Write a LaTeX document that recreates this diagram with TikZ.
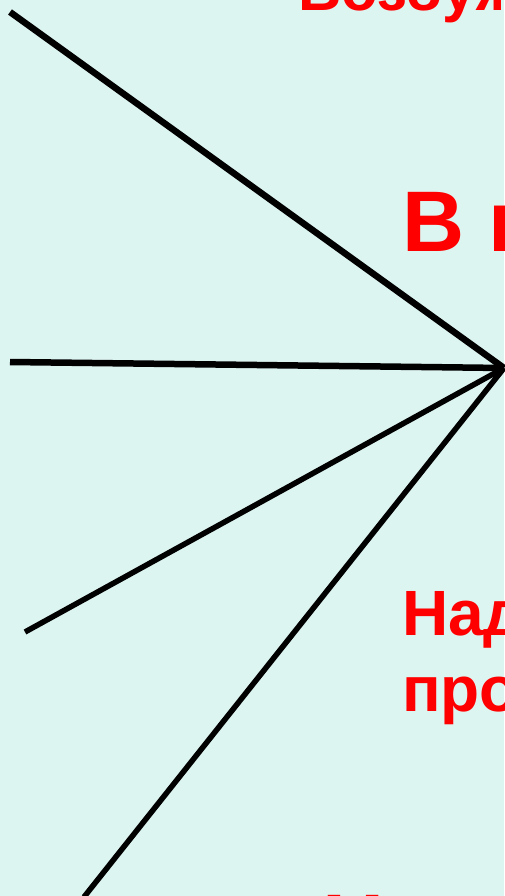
\documentclass[tikz,border=0pt]{standalone}
\usepackage{fontspec}
\setmainfont{Liberation Sans}
\definecolor{bg}{RGB}{221,245,241}
\definecolor{txt}{RGB}{255,0,0}
\tikzset{
  ray/.style={line width=5.5pt, draw=black},
  label/.style={text=txt, font=\bfseries, inner sep=0pt, anchor=base west},
  big/.style={font=\fontsize{86}{96}\selectfont\bfseries},
  mid/.style={font=\fontsize{64}{76}\selectfont\bfseries},
}
\begin{document}
\begin{tikzpicture}[x=1pt,y=-1pt]
\useasboundingbox (0,0) rectangle (504,896);
\fill[bg] (0,0) rectangle (504,896);
\coordinate (hub) at (504,368);
\coordinate (e1) at (10,12);
\coordinate (e2) at (10,362);
\coordinate (e3) at (25,632);
\coordinate (e4) at (84,897);
\draw[ray, line width=6.5pt] (e1) -- (hub);
\draw[ray, line width=6.5pt] (e2) -- (hub);
\draw[ray] (e3) -- (hub);
\draw[ray] (e4) -- (hub);
\node[label, font=\fontsize{60}{66}\selectfont\bfseries] (t1) at (298,11) {Возбуждение};
\node[label, big] (t2) at (402,251) {В покое};
\node[label, mid] (t3) at (402,635) {Над};
\node[label, mid] (t3b) at (402,711) {про};
\node[label, big] (t4) at (322,954) {Н};
\end{tikzpicture}
\end{document}
